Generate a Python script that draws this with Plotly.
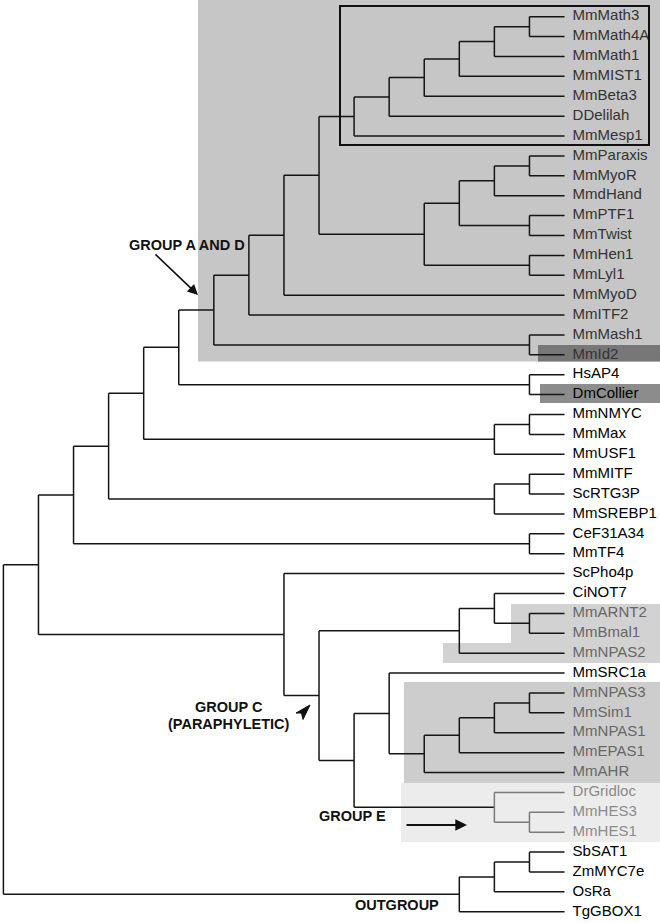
import plotly.graph_objects as go

# leaves, top to bottom
leaves = ["MmMath3", "MmMath4A", "MmMath1", "MmMIST1", "MmBeta3", "DDelilah", "MmMesp1",
          "MmParaxis", "MmMyoR", "MmdHand", "MmPTF1", "MmTwist", "MmHen1", "MmLyl1",
          "MmMyoD", "MmITF2", "MmMash1", "MmId2", "HsAP4", "DmCollier",
          "MmNMYC", "MmMax", "MmUSF1", "MmMITF", "ScRTG3P", "MmSREBP1", "CeF31A34", "MmTF4",
          "ScPho4p", "CiNOT7", "MmARNT2", "MmBmal1", "MmNPAS2", "MmSRC1a",
          "MmNPAS3", "MmSim1", "MmNPAS1", "MmEPAS1", "MmAHR", "DrGridloc", "MmHES3", "MmHES1",
          "SbSAT1", "ZmMYC7e", "OsRa", "TgGBOX1"]

# internal nodes: name, depth level, children
node_names = ["a1", "a2", "a3", "a4", "a5", "a6", "b1", "b2", "b3", "b4", "b5", "b6",
              "c1", "c2", "c3", "c4", "grpA", "d1", "d2", "e1", "e2", "e3", "f1", "f2", "f3",
              "g1", "g2", "h1", "h2", "h3", "k1", "k2", "k3", "k4", "k5", "m1", "m2",
              "n1", "n2", "grpC", "top", "o1", "o2", "out", "root"]
node_levels = [15, 14, 13, 12, 11, 10, 15, 14, 15, 13, 15, 12,
               9, 8, 7, 15, 6, 15, 5, 15, 14, 4, 15, 14, 3,
               15, 2, 15, 14, 13, 15, 14, 13, 12, 11, 15, 14,
               10, 9, 8, 1, 15, 14, 13, 0]
node_children = [["MmMath3", "MmMath4A"], ["a1", "MmMath1"], ["a2", "MmMIST1"], ["a3", "MmBeta3"],
                 ["a4", "DDelilah"], ["a5", "MmMesp1"], ["MmParaxis", "MmMyoR"], ["b1", "MmdHand"],
                 ["MmPTF1", "MmTwist"], ["b2", "b3"], ["MmHen1", "MmLyl1"], ["b4", "b5"],
                 ["a6", "b6"], ["c1", "MmMyoD"], ["c2", "MmITF2"], ["MmMash1", "MmId2"], ["c3", "c4"],
                 ["HsAP4", "DmCollier"], ["grpA", "d1"], ["MmNMYC", "MmMax"], ["e1", "MmUSF1"],
                 ["d2", "e2"], ["MmMITF", "ScRTG3P"], ["f1", "MmSREBP1"], ["e3", "f2"],
                 ["CeF31A34", "MmTF4"], ["f3", "g1"],
                 ["MmARNT2", "MmBmal1"], ["CiNOT7", "h1"], ["h2", "MmNPAS2"],
                 ["MmNPAS3", "MmSim1"], ["k1", "MmNPAS1"], ["k2", "MmEPAS1"], ["k3", "MmAHR"],
                 ["MmSRC1a", "k4"], ["MmHES3", "MmHES1"], ["DrGridloc", "m1"],
                 ["k5", "m2"], ["h3", "n1"], ["ScPho4p", "n2"], ["g2", "grpC"],
                 ["SbSAT1", "ZmMYC7e"], ["o1", "OsRa"], ["o2", "TgGBOX1"], ["top", "out"]]

leaf_level = 16
grey_text = {"MmARNT2": "#666", "MmBmal1": "#666", "MmNPAS2": "#666", "MmNPAS3": "#666",
             "MmSim1": "#666", "MmNPAS1": "#666", "MmEPAS1": "#666", "MmAHR": "#666",
             "DrGridloc": "#8a8a8a", "MmHES3": "#8a8a8a", "MmHES1": "#8a8a8a"}
faded_nodes = ["m1", "m2"]

# pixel geometry of the page
W, H = 660, 923
X0, DX = 3.4, 35.07
Y0, DY = 16.7, 19.89

pos_x = {n: leaf_level for n in leaves}
pos_y = {n: i for i, n in enumerate(leaves)}
for name, lev, ch in zip(node_names, node_levels, node_children):
    pos_x[name] = lev
    pos_y[name] = sum(pos_y[c] for c in ch) / len(ch)

seg = {"dark": ([], []), "faded": ([], [])}
for name, lev, ch in zip(node_names, node_levels, node_children):
    key = "faded" if name in faded_nodes else "dark"
    xs, ys = seg[key]
    cy = [pos_y[c] for c in ch]
    xs += [lev, lev, None]
    ys += [min(cy), max(cy), None]
    for c in ch:
        xs += [lev, pos_x[c], None]
        ys += [pos_y[c], pos_y[c], None]

fig = go.Figure()
fig.add_trace(go.Scatter(x=seg["dark"][0], y=seg["dark"][1], mode="lines",
                         line=dict(color="#151515", width=1.5), hoverinfo="skip"))
fig.add_trace(go.Scatter(x=seg["faded"][0], y=seg["faded"][1], mode="lines",
                         line=dict(color="#7a7a7a", width=1.5), hoverinfo="skip"))

colors = []
for i, n in enumerate(leaves):
    if n in grey_text:
        colors.append(grey_text[n])
    elif i <= 17:
        colors.append("#333")
    else:
        colors.append("#000")
fig.add_trace(go.Scatter(x=[leaf_level + 0.23] * len(leaves), y=list(range(len(leaves))),
                         mode="text", text=leaves, textposition="middle right",
                         textfont=dict(family="Liberation Sans, Arial", size=15, color=colors),
                         hoverinfo="skip"))


def lx(px):
    return (px - X0) / DX


def ly(py):
    return (py - Y0) / DY


shapes = [
    dict(type="rect", x0=lx(198), x1=lx(W), y0=ly(0), y1=ly(361.5), fillcolor="#c6c6c6", line_width=0, layer="below"),
    dict(type="rect", x0=lx(538), x1=lx(W), y0=ly(345), y1=ly(361.5), fillcolor="#777", line_width=0, layer="below"),
    dict(type="rect", x0=lx(540), x1=lx(W), y0=ly(384), y1=ly(403), fillcolor="#8c8c8c", line_width=0, layer="below"),
    dict(type="rect", x0=lx(511), x1=lx(W), y0=ly(604), y1=ly(643), fillcolor="#d2d2d2", line_width=0, layer="below"),
    dict(type="rect", x0=lx(443), x1=lx(W), y0=ly(643), y1=ly(663), fillcolor="#d2d2d2", line_width=0, layer="below"),
    dict(type="rect", x0=lx(404), x1=lx(W), y0=ly(682), y1=ly(783), fillcolor="#cdcdcd", line_width=0, layer="below"),
    dict(type="rect", x0=lx(401), x1=lx(W), y0=ly(783), y1=ly(842), fillcolor="#ececec", line_width=0, layer="below"),
    dict(type="rect", x0=lx(340), x1=lx(649), y0=ly(6), y1=ly(145), line=dict(color="#111", width=2)),
    dict(type="path", xref="paper", yref="paper",
         path="M {:.4f} {:.4f} L {:.4f} {:.4f} L {:.4f} {:.4f} L {:.4f} {:.4f} Z".format(
             310 / W, 1 - 705 / H, 296 / W, 1 - 713 / H, 301.5 / W, 1 - 713 / H, 303 / W, 1 - 719.5 / H),
         fillcolor="#111", line=dict(color="#111", width=1)),
]

bold = dict(family="Liberation Sans, Arial", size=14.5, color="#111")
notes = [("<b>GROUP A AND D</b>", 126.5, 235), ("<b>GROUP C</b>", 229, 717),
         ("<b>(PARAPHYLETIC)</b>", 229, 734), ("<b>GROUP E</b>", 352, 826),
         ("<b>OUTGROUP</b>", 397, 915)]
annotations = [dict(text=t, x=x / W, y=1 - y / H, xref="paper", yref="paper",
                    showarrow=False, font=bold) for t, x, y in notes]
annotations += [
    dict(x=198 / W, y=1 - 295 / H, xref="paper", yref="paper", ax=-44, ay=-42,
         showarrow=True, arrowhead=2, arrowsize=1.3, arrowwidth=1.6, arrowcolor="#111", text=""),
    dict(x=467 / W, y=1 - 825 / H, xref="paper", yref="paper", ax=-62, ay=0,
         showarrow=True, arrowhead=2, arrowsize=1.3, arrowwidth=1.8, arrowcolor="#111", text=""),
]

fig.update_layout(width=W, height=H, margin=dict(l=0, r=0, t=0, b=0),
                  plot_bgcolor="white", paper_bgcolor="white", showlegend=False,
                  shapes=shapes, annotations=annotations)
fig.update_xaxes(range=[lx(0), lx(W)], visible=False, fixedrange=True)
fig.update_yaxes(range=[ly(H), ly(0)], visible=False, fixedrange=True)

# the page body has a default 8px margin; drop it so the figure fills the window
fig.write_html("out.html", config={"displayModeBar": False},
               post_script="document.body.style.margin='0px';")
